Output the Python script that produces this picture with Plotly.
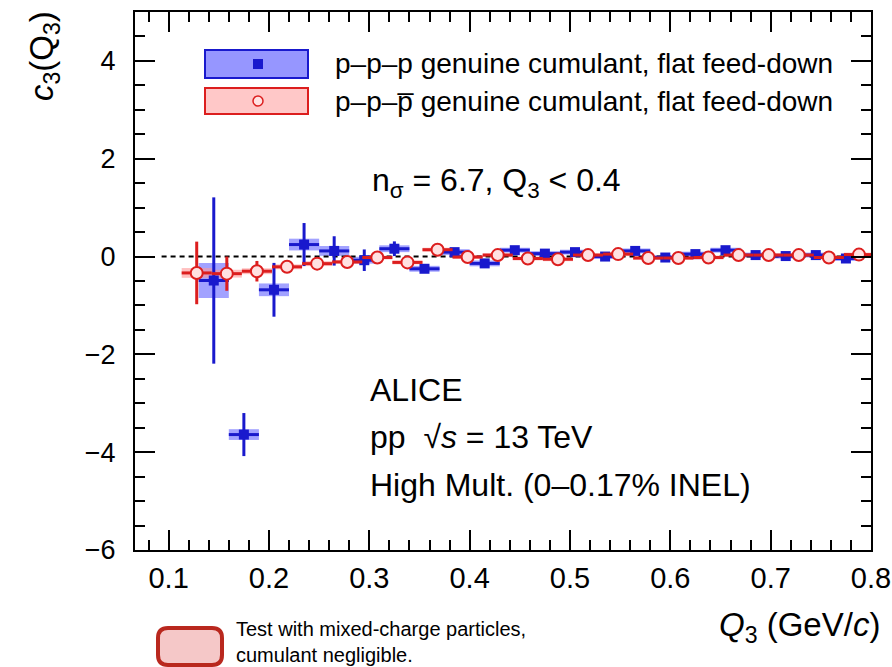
import plotly.graph_objects as go

# ---------------- data ----------------
ppp_q = [0.145, 0.175, 0.205, 0.235, 0.265, 0.295, 0.325, 0.355, 0.385, 0.415, 0.445,
         0.475, 0.505, 0.535, 0.565, 0.595, 0.625, 0.655, 0.685, 0.715, 0.745, 0.775]
ppp_c = [-0.49, -3.64, -0.68, 0.245, 0.115, -0.075, 0.16, -0.25, 0.09, -0.14, 0.13,
         0.06, 0.09, 0.0, 0.115, -0.02, 0.05, 0.13, 0.03, 0.01, 0.03, -0.04]
ppp_stat = [1.7, 0.44, 0.55, 0.44, 0.3, 0.22, 0.15, 0.08, 0.07, 0.07, 0.06,
            0.05, 0.05, 0.04, 0.04, 0.04, 0.04, 0.04, 0.04, 0.04, 0.04, 0.04]
ppp_syst = [0.36, 0.11, 0.13, 0.12, 0.1, 0.07, 0.07, 0.06, 0.06, 0.06, 0.05,
            0.05, 0.05, 0.05, 0.05, 0.05, 0.05, 0.05, 0.05, 0.05, 0.05, 0.05]

pppbar_q = [0.128, 0.158, 0.188, 0.218, 0.248, 0.278, 0.308, 0.338, 0.368, 0.398, 0.428, 0.458,
            0.488, 0.518, 0.548, 0.578, 0.608, 0.638, 0.668, 0.698, 0.728, 0.758, 0.788]
pppbar_c = [-0.335, -0.35, -0.30, -0.21, -0.145, -0.11, -0.02, -0.12, 0.14, -0.01, 0.03, -0.04,
            -0.055, 0.03, 0.05, -0.03, -0.03, -0.02, 0.03, 0.03, 0.03, -0.02, 0.04]
pppbar_stat = [0.64, 0.35, 0.21, 0.09, 0.05, 0.04, 0.03, 0.03, 0.03, 0.03, 0.03, 0.03,
               0.03, 0.03, 0.03, 0.03, 0.03, 0.03, 0.03, 0.03, 0.03, 0.03, 0.03]
pppbar_syst = [0.1, 0.08, 0.06, 0.05, 0.05, 0.04, 0.04, 0.04, 0.04, 0.04, 0.04, 0.04,
               0.04, 0.04, 0.04, 0.04, 0.04, 0.04, 0.04, 0.04, 0.04, 0.04, 0.04]

bin_width = 0.03
x_ticks = [0.1, 0.2, 0.3, 0.4, 0.5, 0.6, 0.7, 0.8]
y_ticks = [-6, -4, -2, 0, 2, 4]
zero_line_q = [0.093, 0.8]

# ---------------- style ----------------
BLUE = "rgb(25,25,205)"
BLUE_BOX = "rgba(70,70,255,0.5)"
RED = "rgb(220,30,30)"
RED_BOX = "rgba(255,150,150,0.6)"
FONT = "Liberation Sans, Arial, Helvetica, sans-serif"

fig = go.Figure()

# systematic boxes
fig.add_trace(go.Bar(x=ppp_q, y=[2 * s for s in ppp_syst],
                     base=[c - s for c, s in zip(ppp_c, ppp_syst)],
                     width=bin_width, marker=dict(color=BLUE_BOX, line=dict(width=0)),
                     showlegend=False, hoverinfo="skip"))
fig.add_trace(go.Bar(x=pppbar_q, y=[2 * s for s in pppbar_syst],
                     base=[c - s for c, s in zip(pppbar_c, pppbar_syst)],
                     width=bin_width, marker=dict(color=RED_BOX, line=dict(width=0)),
                     showlegend=False, hoverinfo="skip"))

# zero line
fig.add_trace(go.Scatter(x=zero_line_q, y=[0, 0], mode="lines",
                         line=dict(color="black", width=2, dash="5px,4px"),
                         showlegend=False, hoverinfo="skip"))

# stat points
fig.add_trace(go.Scatter(x=ppp_q, y=ppp_c, mode="markers",
                         marker=dict(symbol="square", size=10, color=BLUE),
                         error_y=dict(type="data", array=ppp_stat, color=BLUE, thickness=3, width=0),
                         error_x=dict(type="constant", value=bin_width / 2, color=BLUE, thickness=3, width=0),
                         showlegend=False))
fig.add_trace(go.Scatter(x=pppbar_q, y=pppbar_c, mode="markers",
                         marker=dict(symbol="circle", size=12, color="rgb(255,225,225)",
                                     line=dict(color=RED, width=2)),
                         error_y=dict(type="data", array=pppbar_stat, color=RED, thickness=3, width=0),
                         error_x=dict(type="constant", value=bin_width / 2, color=RED, thickness=3, width=0),
                         showlegend=False))

W, H = 892, 667
ML, MR, MT, MB = 135, 21, 12, 117
PW, PH = W - ML - MR, H - MT - MB


def px(x):
    return (x - ML) / PW


def py(y):
    return (H - MB - y) / PH


shapes = []
# legend boxes
shapes.append(dict(type="rect", xref="paper", yref="paper", x0=px(205), x1=px(308), y0=py(78), y1=py(50),
                   fillcolor="rgb(150,150,255)", line=dict(color=BLUE, width=2)))
shapes.append(dict(type="rect", xref="paper", yref="paper", x0=px(253), x1=px(263), y0=py(69), y1=py(59),
                   fillcolor=BLUE, line=dict(width=0)))
shapes.append(dict(type="rect", xref="paper", yref="paper", x0=px(205), x1=px(308), y0=py(114), y1=py(88),
                   fillcolor="rgb(255,200,200)", line=dict(color=RED, width=2)))
shapes.append(dict(type="circle", xref="paper", yref="paper", x0=px(253), x1=px(263), y0=py(106), y1=py(96),
                   fillcolor="rgb(255,225,225)", line=dict(color=RED, width=1.5)))

# bottom rounded box
bx0, bx1, by0, by1, r = 158, 222, 628, 665, 10
path = (f"M {px(bx0 + r)},{py(by0)} L {px(bx1 - r)},{py(by0)} Q {px(bx1)},{py(by0)} {px(bx1)},{py(by0 + r)} "
        f"L {px(bx1)},{py(by1 - r)} Q {px(bx1)},{py(by1)} {px(bx1 - r)},{py(by1)} "
        f"L {px(bx0 + r)},{py(by1)} Q {px(bx0)},{py(by1)} {px(bx0)},{py(by1 - r)} "
        f"L {px(bx0)},{py(by0 + r)} Q {px(bx0)},{py(by0)} {px(bx0 + r)},{py(by0)} Z")
shapes.append(dict(type="path", xref="paper", yref="paper", path=path,
                   fillcolor="rgb(245,200,200)", line=dict(color="rgb(185,40,30)", width=4)))

annotations = []


def txt(x, y, s, size, xanchor="left", yanchor="middle", **kw):
    annotations.append(dict(xref="paper", yref="paper", x=px(x), y=py(y), text=s, showarrow=False,
                            xanchor=xanchor, yanchor=yanchor,
                            font=dict(family=FONT, size=size, color="black"), **kw))


txt(333, 64, "p\u2013p\u2013p genuine cumulant, flat feed-down", 28)
txt(333, 101, "p\u2013p\u2013p\u0305 genuine cumulant, flat feed-down", 28)
txt(370, 182, "n<sub>\u03c3</sub> = 6.7, Q<sub>3</sub> < 0.4", 32)
txt(368, 390, "ALICE", 32)
txt(368, 437, "pp  \u221a<i>s</i> = 13 TeV", 32)
txt(368, 485, "High Mult. (0\u20130.17% INEL)", 32)
txt(882, 627, "<i>Q</i><sub>3</sub> (GeV/<i>c</i>)", 33, xanchor="right")
txt(235, 667, "Test with mixed-charge particles,<br>cumulant negligible.", 20, yanchor="bottom",
    align="left", borderpad=0)
annotations.append(dict(xref="paper", yref="paper", x=px(44), y=py(56), text="<i>c</i><sub>3</sub>(Q<sub>3</sub>)",
                        showarrow=False, textangle=-90, xanchor="center", yanchor="middle",
                        font=dict(family=FONT, size=33, color="black")))

axis_common = dict(showgrid=False, zeroline=False, showline=True, linecolor="black", linewidth=2,
                   mirror="allticks", ticks="inside", tickcolor="black", tickwidth=2, ticklen=20)

fig.update_layout(
    width=W, height=H, margin=dict(l=ML, r=MR, t=MT, b=MB, autoexpand=False),
    paper_bgcolor="white", plot_bgcolor="white", barmode="overlay", showlegend=False,
    font=dict(family=FONT, color="black"),
    xaxis=dict(range=[0.0665, 0.8], tickvals=x_ticks, ticktext=[f"{v:.1f}" for v in x_ticks],
               tickfont=dict(size=29), ticklabelstandoff=1,
               minor=dict(dtick=0.02, tick0=0, ticks="inside", ticklen=10, tickwidth=2, tickcolor="black"),
               **axis_common),
    yaxis=dict(range=[-6, 5], tickvals=y_ticks, ticktext=[str(v).replace("-", "\u2212") for v in y_ticks],
               tickfont=dict(size=27), ticklabelstandoff=12,
               minor=dict(dtick=0.5, tick0=0, ticks="inside", ticklen=10, tickwidth=2, tickcolor="black"),
               **axis_common),
    shapes=shapes, annotations=annotations,
)

fig.write_html("out.html")
